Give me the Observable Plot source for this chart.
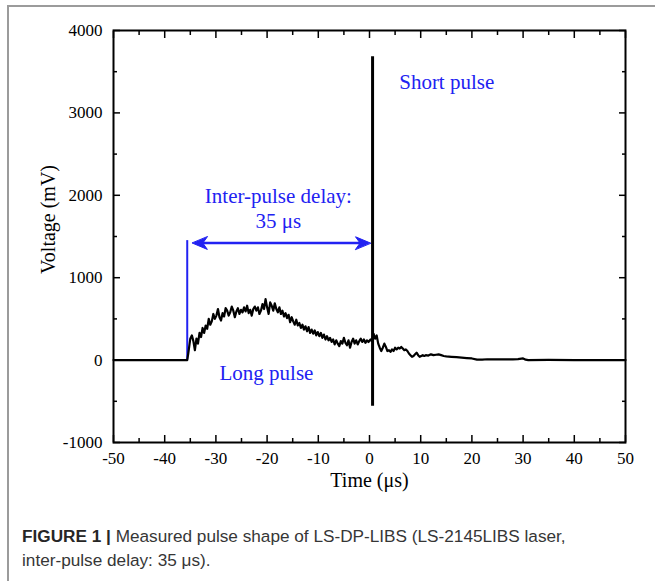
<!DOCTYPE html>
<html>
<head>
<meta charset="utf-8">
<script src="https://cdn.jsdelivr.net/npm/d3@7"></script>
<script src="https://cdn.jsdelivr.net/npm/@observablehq/plot@0.6"></script>
<style>
  html, body { margin: 0; padding: 0; background: #fff; width: 655px; height: 581px; overflow: hidden; }
  #box { position: absolute; left: 7px; top: 5px; width: 720px; height: 640px; border: 2px solid #9b9b9b; box-sizing: border-box; }
  #chart { position: absolute; left: 0; top: 0; }
  #caption { position: absolute; left: 22px; top: 524px; width: 630px; font-family: "Liberation Sans", Arial, sans-serif; font-size: 17.2px; line-height: 24px; color: #363636; white-space: nowrap; }
  #caption b { color: #262626; }
</style>
</head>
<body>
<div id="box"></div>
<div id="chart"></div>
<div id="caption"><b>FIGURE 1 |</b> Measured pulse shape of LS-DP-LIBS (LS-2145LIBS laser,<br>inter-pulse delay: 35 μs).</div>
<script>
// ---- data ----
const traceTime = [
  -50, -36, -35.6, -35.4, -35.2, -35, -34.7, -34.4, -34.1, -33.8,
  -33.5, -33.2, -32.9, -32.6, -32.3, -32, -31.7, -31.4, -31.1, -30.8,
  -30.5, -30.2, -29.9, -29.6, -29.3, -29, -28.7, -28.4, -28.1, -27.8,
  -27.5, -27.2, -26.9, -26.6, -26.3, -26, -25.7, -25.4, -25.1, -24.8,
  -24.5, -24.2, -23.9, -23.6, -23.3, -23, -22.7, -22.4, -22.1, -21.8,
  -21.5, -21.2, -20.9, -20.6, -20.3, -20, -19.7, -19.4, -19.1, -18.8,
  -18.5, -18.2, -17.9, -17.6, -17.3, -17, -16.7, -16.4, -16.1, -15.8,
  -15.5, -15.2, -14.9, -14.6, -14.3, -14, -13.7, -13.4, -13.1, -12.8,
  -12.5, -12.2, -11.9, -11.6, -11.3, -11, -10.7, -10.4, -10.1, -9.8,
  -9.5, -9.2, -8.9, -8.6, -8.3, -8, -7.7, -7.4, -7.1, -6.8,
  -6.5, -6.2, -5.9, -5.6, -5.3, -5, -4.7, -4.4, -4.1, -3.8,
  -3.5, -3.2, -2.9, -2.6, -2.3, -2, -1.7, -1.4, -1.1, -0.8,
  -0.5, -0.2, 0.2, 0.5, 0.8, 1.1, 1.4, 1.7, 2, 2.3,
  2.6, 2.9, 3.2, 3.5, 3.8, 4.1, 4.4, 4.7, 5, 5.3,
  5.6, 5.9, 6.2, 6.5, 6.8, 7.1, 7.4, 7.7, 8, 8.3,
  8.6, 8.9, 9.2, 9.5, 9.8, 10.1, 10.4, 10.7, 11, 11.5,
  12, 12.5, 13, 13.5, 14, 14.5, 15, 16, 17, 18,
  19, 20, 21, 22, 23, 24, 25, 26, 27, 28,
  29, 30, 30.5, 31, 35, 40, 45, 50
];
const traceVoltage = [
  0, 0, 0, 80, 170, 260, 300, 230, 120, 260,
  200, 330, 280, 390, 330, 420, 380, 500, 430, 470,
  560, 500, 540, 620, 520, 480, 570, 530, 630, 600,
  540, 580, 650, 600, 520, 590, 630, 560, 610, 580,
  640, 590, 660, 570, 610, 540, 620, 650, 600, 640,
  560, 600, 680, 620, 740, 640, 560, 700, 660, 600,
  690, 620, 580, 640, 560, 600, 530, 570, 510, 550,
  460, 520, 470, 430, 490, 420, 450, 390, 430, 370,
  410, 350, 400, 330, 370, 320, 360, 300, 340, 290,
  330, 270, 310, 250, 290, 240, 270, 220, 250, 190,
  240, 200, 170, 230, 200, 270, 210, 180, 240, 150,
  220, 260, 200, 240, 190, 230, 260, 220, 250, 210,
  240, 220, 250, 230, 320, 260, 300, 200, 150, 110,
  150, 200, 160, 110, 120, 100, 130, 110, 150, 130,
  150, 140, 160, 140, 120, 130, 110, 80, 60, 40,
  50, 70, 90, 60, 40, 50, 60, 50, 60, 55,
  70, 60, 65, 70, 60, 50, 45, 40, 35, 30,
  25, 20, 5, 5, 10, 8, 10, 10, 8, 10,
  12, 20, 5, 0, 2, 0, 0, 0
];
const spikeTime = [0.6];
const spikeMin = [-560];
const spikeMax = [3680];
const markerTime = [-35.6];
const markerLow = [0];
const markerHigh = [1450];
const arrowFrom = [-34.6];
const arrowTo = [0.2];
const arrowLevel = [1420];
const xMajor = [-50, -40, -30, -20, -10, 0, 10, 20, 30, 40, 50];
const xMinor = [-45, -35, -25, -15, -5, 5, 15, 25, 35, 45];
const yMajor = [-1000, 0, 1000, 2000, 3000, 4000];
const yMinor = [-500, 500, 1500, 2500, 3500];
const leftNotes = [
  {t: 5.8, v: 3370, text: "Short pulse"},
  {t: -29.3, v: -160, text: "Long pulse"}
];
const centerNotes = [
  {t: -17.8, v: 1990, text: "Inter-pulse delay:"},
  {t: -17.8, v: 1690, text: "35 μs"}
];
const xTitle = "Time (μs)";
const yTitle = "Voltage (mV)";

// ---- build tables ----
const trace = traceTime.map((t, i) => ({t, v: traceVoltage[i]}));
const spike = spikeTime.map((t, i) => ({t, lo: spikeMin[i], hi: spikeMax[i]}));
const marker = markerTime.map((t, i) => ({t, lo: markerLow[i], hi: markerHigh[i]}));
const shafts = arrowFrom.map((a, i) => ({x1: a, x2: arrowTo[i], y: arrowLevel[i]}));
const heads = [];
arrowFrom.forEach((a, i) => {
  heads.push({x: a, y: arrowLevel[i], dir: -90});
  heads.push({x: arrowTo[i], y: arrowLevel[i], dir: 90});
});
// barbed, filled arrowhead (tip at the anchor point)
const barb = {
  draw(context, l) {
    context.moveTo(0, -l);
    context.lineTo(-l * 0.42, 0);
    context.lineTo(0, -l * 0.3);
    context.lineTo(l * 0.42, 0);
    context.closePath();
  }
};
const blue = "#2222f2";
const empty = () => "";

const plot = Plot.plot({
  width: 655,
  height: 500,
  marginLeft: 113,
  marginRight: 30,
  marginTop: 30,
  marginBottom: 58,
  style: {fontFamily: "'Liberation Serif', 'Times New Roman', serif", fontSize: "17px", color: "#000", background: "transparent"},
  x: {domain: [-50, 50], label: null},
  y: {domain: [-1000, 4000], label: null},
  marks: [
    // ticks (inward)
    Plot.axisX(xMajor, {anchor: "bottom", tickSize: -7, tickFormat: empty, strokeWidth: 1.5, label: null}),
    Plot.axisX(xMinor, {anchor: "bottom", tickSize: -4, tickFormat: empty, strokeWidth: 1.5, label: null}),
    Plot.axisX(xMajor, {anchor: "top", tickSize: -7, tickFormat: empty, strokeWidth: 1.5, label: null}),
    Plot.axisX(xMinor, {anchor: "top", tickSize: -4, tickFormat: empty, strokeWidth: 1.5, label: null}),
    Plot.axisY(yMajor, {anchor: "left", tickSize: -7, tickFormat: empty, strokeWidth: 1.5, label: null}),
    Plot.axisY(yMinor, {anchor: "left", tickSize: -4, tickFormat: empty, strokeWidth: 1.5, label: null}),
    Plot.axisY(yMajor, {anchor: "right", tickSize: -7, tickFormat: empty, strokeWidth: 1.5, label: null}),
    Plot.axisY(yMinor, {anchor: "right", tickSize: -4, tickFormat: empty, strokeWidth: 1.5, label: null}),
    // tick labels
    Plot.axisX(xMajor, {anchor: "bottom", tickSize: 0, tickPadding: 9, tickFormat: d => String(d), fontSize: 17, fill: "#000", label: null}),
    Plot.axisY(yMajor, {anchor: "left", tickSize: 0, tickPadding: 11, tickFormat: d => String(d), fontSize: 17, fill: "#000", label: null}),
    // axis titles
    Plot.text([xTitle], {frameAnchor: "bottom", lineAnchor: "middle", textAnchor: "middle", dy: 38, text: d => d, fontSize: 20, fill: "#000"}),
    Plot.text([yTitle], {frameAnchor: "left", lineAnchor: "middle", textAnchor: "middle", dx: -65, dy: -17, rotate: -90, text: d => d, fontSize: 20, fill: "#000"}),
    // blue annotation
    Plot.ruleX(marker, {x: "t", y1: "lo", y2: "hi", stroke: blue, strokeWidth: 2}),
    Plot.ruleY(shafts, {x1: "x1", x2: "x2", y: "y", stroke: blue, strokeWidth: 2.5, insetLeft: 4, insetRight: 4}),
    Plot.vector(heads, {x: "x", y: "y", rotate: "dir", length: 15, anchor: "end", shape: barb, fill: blue, stroke: blue, strokeWidth: 1}),
    // trace
    Plot.line(trace, {x: "t", y: "v", stroke: "#000", strokeWidth: 2.2, curve: "linear"}),
    Plot.ruleX(spike, {x: "t", y1: "lo", y2: "hi", stroke: "#000", strokeWidth: 3}),
    Plot.text(leftNotes, {x: "t", y: "v", text: "text", textAnchor: "start", fill: blue, fontSize: 21}),
    Plot.text(centerNotes, {x: "t", y: "v", text: "text", textAnchor: "middle", fill: blue, fontSize: 21}),
    Plot.frame({stroke: "#000", strokeWidth: 2})
  ]
});
document.getElementById("chart").appendChild(plot);
</script>
</body>
</html>
